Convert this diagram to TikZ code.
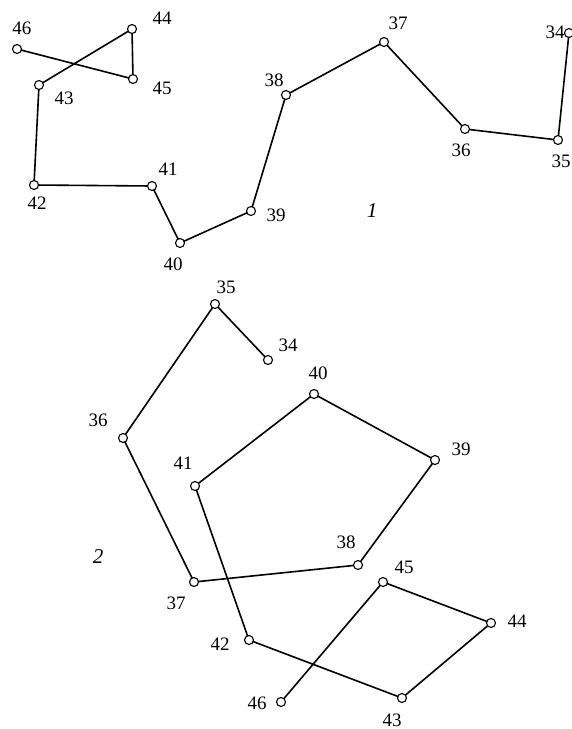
\documentclass[tikz,border=0pt]{standalone}
\usepackage{fontspec}
\setmainfont{Liberation Serif}
\begin{document}
\begin{tikzpicture}[x=1pt,y=-1pt,
  pt/.style={circle,draw,fill=white,inner sep=0pt,minimum size=9pt,line width=1.1pt},
  lbl/.style={font=\fontsize{19}{19}\selectfont,inner sep=0pt},
  chain/.style={line width=1.6pt}]
\useasboundingbox (0,0) rectangle (572,729);
% ---------- chain 1 ----------
\coordinate (a46) at (17,49);
\coordinate (a44) at (132,29);
\coordinate (a45) at (133,79);
\coordinate (a43) at (39,85);
\coordinate (a42) at (34,185);
\coordinate (a41) at (152,186);
\coordinate (a40) at (180,243);
\coordinate (a39) at (251,211);
\coordinate (a38) at (286,95);
\coordinate (a37) at (384,42);
\coordinate (a36) at (465,129);
\coordinate (a35) at (558,140);
\coordinate (a34) at (569,33);
\draw[chain] (a34)--(a35)--(a36)--(a37)--(a38)--(a39)--(a40)--(a41)--(a42)--(a43)--(a44)--(a45)--(a46);
\foreach \n in {34,...,46} {\node[pt] (p\n) at (a\n) {};}
\node[lbl] (l46) at (22,28) {46};
\node[lbl] (l44) at (162,18) {44};
\node[lbl] (l45) at (162,88) {45};
\node[lbl] (l43) at (64,98) {43};
\node[lbl] (l42) at (37,203) {42};
\node[lbl] (l41) at (168,169) {41};
\node[lbl] (l40) at (173,264) {40};
\node[lbl] (l39) at (276,215) {39};
\node[lbl] (l38) at (274,80) {38};
\node[lbl] (l37) at (398,23) {37};
\node[lbl] (l36) at (461,150) {36};
\node[lbl] (l35) at (561,161) {35};
\node[lbl] (l34) at (555,32) {34};
\node[lbl,font=\fontsize{21}{21}\selectfont\itshape] (t1) at (372,211) {1};
% ---------- chain 2 ----------
\coordinate (b35) at (215,304);
\coordinate (b34) at (268,360);
\coordinate (b36) at (123,438);
\coordinate (b37) at (194,582);
\coordinate (b38) at (358,565);
\coordinate (b39) at (435,460);
\coordinate (b40) at (314,394);
\coordinate (b41) at (195,486);
\coordinate (b42) at (249,640);
\coordinate (b43) at (402,698);
\coordinate (b44) at (491,623);
\coordinate (b45) at (383,582);
\coordinate (b46) at (281,702);
\draw[chain] (b34)--(b35)--(b36)--(b37)--(b38)--(b39)--(b40)--(b41)--(b42)--(b43)--(b44)--(b45)--(b46);
\foreach \n in {34,...,46} {\node[pt] (q\n) at (b\n) {};}
\node[lbl] (m35) at (226,287) {35};
\node[lbl] (m34) at (288,345) {34};
\node[lbl] (m36) at (98,420) {36};
\node[lbl] (m40) at (318,373) {40};
\node[lbl] (m39) at (461,449) {39};
\node[lbl] (m41) at (183,463) {41};
\node[lbl] (m38) at (346,542) {38};
\node[lbl] (m37) at (176,603) {37};
\node[lbl] (m42) at (220,644) {42};
\node[lbl] (m45) at (404,567) {45};
\node[lbl] (m44) at (517,621) {44};
\node[lbl] (m46) at (257,703) {46};
\node[lbl] (m43) at (392,720) {43};
\node[lbl,font=\fontsize{21}{21}\selectfont\itshape] (t2) at (98,557) {2};
\end{tikzpicture}
\end{document}
